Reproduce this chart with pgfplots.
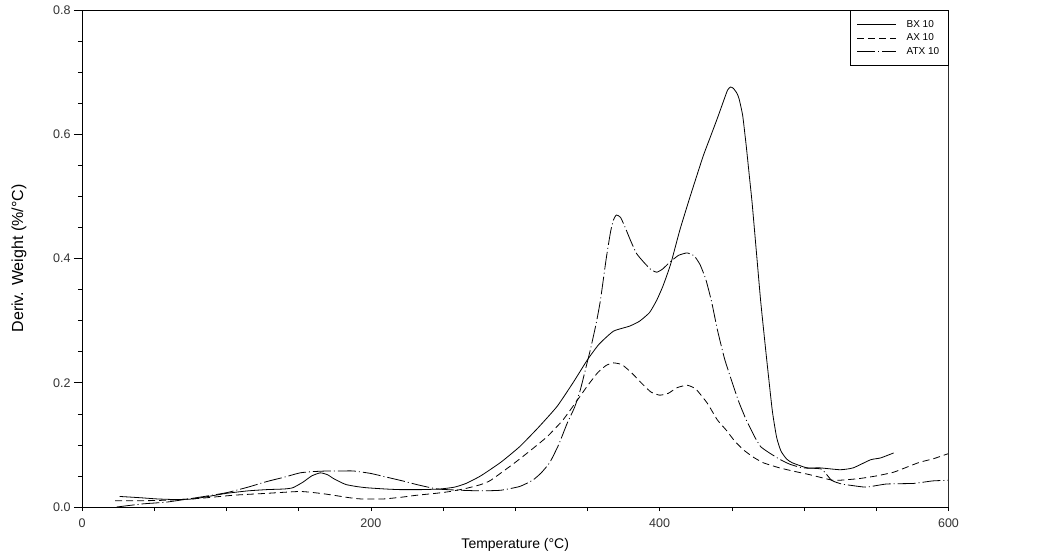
\documentclass[border=0pt]{standalone}
\usepackage{fontspec}
\setmainfont{Liberation Sans}
\usepackage{pgfplots}
\pgfplotsset{compat=1.18}
\begin{document}
\begin{tikzpicture}
\useasboundingbox (-82pt,-51pt) rectangle (960pt,507pt);
\begin{axis}[
  at={(0pt,0pt)}, anchor=south west,
  scale only axis, width=866.5pt, height=497pt,
  xmin=0, xmax=600, ymin=0, ymax=0.8,
  xtick={0,200,400,600},
  minor xtick={50,100,150,250,300,350,450,500,550},
  ytick={0,0.2,0.4,0.6,0.8},
  minor ytick={0.05,0.1,0.15,0.25,0.3,0.35,0.45,0.5,0.55,0.65,0.7,0.75},
  tick align=outside, tick pos=left,
  major tick length=8pt, minor tick length=4pt,
  tick style={black, line width=0.6pt},
  xtick style={/pgfplots/major tick length=4pt},
  /pgf/number format/assume math mode=true,
  yticklabel style={/pgf/number format/.cd, fixed, fixed zerofill, precision=1},
  tick label style={font=\fontsize{12.5}{15}\selectfont, text=black!80},
  axis line style={line width=0.7pt},
  every axis x label/.style={at={(axis description cs:0.5,0)}, yshift=-38pt, anchor=center, font=\fontsize{14}{16}\selectfont},
  every axis y label/.style={at={(axis description cs:0,0.5)}, xshift=-63pt, rotate=90, anchor=center, font=\fontsize{16}{18}\selectfont},
  xlabel={Temperature (°C)},
  ylabel={Deriv. Weight (\%/°C)},
  legend style={at={(rel axis cs:1,1)}, anchor=north east, draw=black, line width=0.6pt,
    font=\fontsize{10}{12}\selectfont, nodes={inner sep=2pt},
    inner xsep=7pt, inner ysep=8pt, row sep=1pt, cells={anchor=west},
    /tikz/every odd column/.append style={column sep=8pt}},
  legend image code/.code={\draw[#1, line width=0.6pt] (0pt,0pt) -- (39pt,0pt);},
  legend cell align=left,
]
\addplot[black, line width=0.8pt, smooth, tension=0.3] coordinates {
(26,0.017) (40,0.015) (52,0.013) (65,0.012) (77,0.013) (90,0.018) (100,0.022)
(115,0.026) (128,0.028) (140,0.029) (146,0.031) (153,0.040) (159,0.050) (165,0.055)
(170,0.052) (174,0.046) (179,0.040) (183,0.036) (190,0.033) (197,0.031) (210,0.029)
(220,0.028) (235,0.028) (248,0.029) (258,0.032) (266,0.038) (276,0.050) (290,0.072)
(303,0.097) (316,0.128) (329,0.162) (340,0.200) (350,0.237) (358,0.262) (368,0.283)
(379,0.291) (386,0.299) (393,0.313) (398,0.333) (402,0.354) (405,0.373) (408,0.394)
(414,0.446) (421,0.499) (430,0.564) (435,0.595) (440,0.626) (444,0.652) (447,0.671)
(449,0.676) (451,0.674) (453.5,0.666) (455,0.657) (457.5,0.630) (460,0.580) (462,0.535)
(464,0.490) (467,0.410) (470,0.330) (474,0.240) (478,0.155) (481,0.112) (484,0.090)
(488,0.077) (492,0.071) (502,0.063)
(511,0.063) (525,0.060) (534,0.063) (546,0.076) (553,0.079) (562,0.087)
};
\addlegendentry{BX 10}
\addplot[black, line width=0.8pt, dash pattern=on 7pt off 4pt, smooth, tension=0.3] coordinates {
(23,0.010) (40,0.010) (59,0.011) (82,0.014) (105,0.019) (128,0.022) (151,0.025)
(165,0.022) (174,0.019) (185,0.015) (193,0.013) (209,0.013) (222,0.016) (232,0.019)
(245,0.022) (255,0.025) (266,0.030) (276,0.036) (283,0.043) (299,0.070) (310,0.090)
(322,0.113) (333,0.140) (343,0.172) (350,0.195) (357,0.216) (363,0.228) (368,0.232)
(374,0.229) (381,0.215) (388,0.198) (394,0.185) (400,0.180) (406,0.183) (412,0.192)
(419,0.196) (425,0.190) (433,0.167) (440,0.140) (446,0.124) (452,0.106) (458,0.092)
(465,0.080) (472,0.071) (483,0.063) (494,0.057) (504,0.052) (520,0.043) (530,0.044)
(539,0.046) (550,0.050) (562,0.056) (571,0.064) (580,0.072) (590,0.078) (600,0.086)
};
\addlegendentry{AX 10}
\addplot[black, line width=0.8pt, dash pattern=on 18pt off 3pt on 1pt off 3pt, smooth, tension=0.3] coordinates {
(24,0.000) (42,0.005) (59,0.008) (82,0.016) (100,0.023) (115,0.032) (128,0.041)
(140,0.048) (151,0.055) (160,0.057) (170,0.058) (180,0.058) (188,0.058) (200,0.054)
(211,0.048) (222,0.042) (232,0.036) (246,0.029) (262,0.027) (276,0.026) (290,0.027)
(303,0.033) (312,0.043) (318,0.055) (324,0.072) (330,0.100) (336,0.135) (341,0.160)
(345,0.188) (349,0.225) (352,0.253) (356,0.295) (359,0.333) (363,0.400) (366,0.443)
(368,0.462) (370,0.470) (373,0.466) (377,0.445) (380,0.428) (384,0.408) (389,0.394)
(394,0.382) (398,0.378) (402,0.383) (407,0.394) (413,0.405) (419,0.409) (424,0.404)
(428,0.390) (432,0.366) (436,0.330) (440,0.285) (445,0.238) (451,0.195) (455,0.168)
(460,0.140) (466,0.112) (470,0.097) (476,0.087) (483,0.077) (490,0.069) (499,0.063)
(512,0.061) (519,0.043) (526,0.037) (532,0.035) (543,0.032) (557,0.037) (576,0.038)
(589,0.042) (600,0.043)
};
\addlegendentry{ATX 10}
\draw[gray, line width=0.8pt] (rel axis cs:1,0) -- (rel axis cs:1,1);
\node[anchor=east, font=\fontsize{9.5}{11}\selectfont, text=black!85] at ([xshift=92pt,yshift=-36pt]rel axis cs:1,0) {Universal V4.7A TA Instruments};
\end{axis}
\end{tikzpicture}
\end{document}
